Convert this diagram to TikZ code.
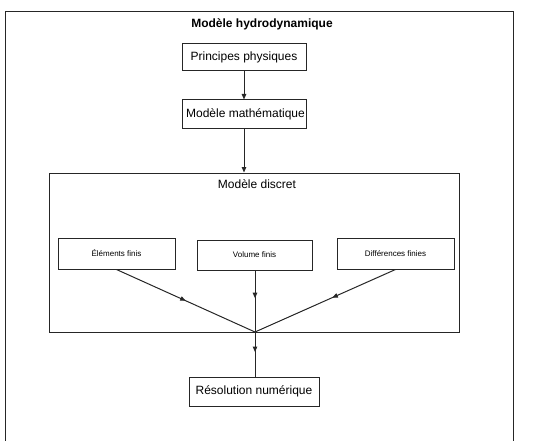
\documentclass[tikz,border=0pt]{standalone}
\usepackage{fontspec}
\setmainfont{Liberation Sans}
\usetikzlibrary{arrows.meta,decorations.markings}
\begin{document}
\begin{tikzpicture}[x=1pt,y=-1pt,
  box/.style={draw=black!85,line width=1pt,rectangle,inner sep=0pt,font=\fontsize{12}{14}\selectfont},
  smallbox/.style={box,font=\fontsize{8}{10}\selectfont},
  conn/.style={draw=black!85,line width=1pt},
  tip/.style={-{Triangle[length=5.5pt,width=4.5pt]}},
  midtip/.style={decoration={markings,mark=at position #1 with {\arrow{Triangle[length=5.5pt,width=4.5pt]}}},postaction={decorate}}
]
\useasboundingbox (0,0) rectangle (543,441);
\draw[black!85,line width=1pt] (5,450) -- (5,12) -- (513,12) -- (513,450);
\node[font=\bfseries\fontsize{12}{14}\selectfont] (title) at (262,24) {Modèle hydrodynamique};
\node[box,minimum width=124pt,minimum height=27pt] (pp) at (244,57.5) {Principes physiques};
\node[box,minimum width=124pt,minimum height=29pt] (mm) at (244,114.5) {\hspace{3pt}Modèle mathématique};
\node[box,minimum width=410pt,minimum height=159pt] (md) at (254,252.5) {};
\node[font=\fontsize{12}{14}\selectfont] (mdt) at (257,184) {Modèle discret};
\node[smallbox,minimum width=117pt,minimum height=31pt] (ef) at (116.5,253.5) {Éléments finis};
\node[smallbox,minimum width=115pt,minimum height=30pt] (vf) at (254.5,255) {Volume finis};
\node[smallbox,minimum width=117pt,minimum height=31pt] (df) at (395.5,253.5) {Différences finies};
\node[box,minimum width=130pt,minimum height=29pt] (rn) at (254,391.5) {Résolution numérique};
\coordinate (c) at (255,332);
\draw[conn,tip] (pp.south) -- (mm.north);
\draw[conn,tip] (mm.south) -- (mm.south |- md.north);
\draw[conn,midtip=0.5] (ef.south) -- (c);
\draw[conn,midtip=0.45] (vf.south -| c) -- (c);
\draw[conn,midtip=0.45] (df.south) -- (c);
\draw[conn,midtip=0.45] (c) -- (c |- rn.north);
\end{tikzpicture}
\end{document}
